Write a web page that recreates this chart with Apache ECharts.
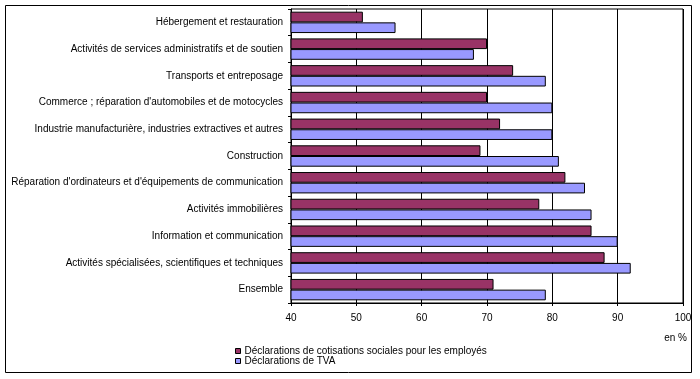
<!DOCTYPE html>
<html><head><meta charset="utf-8">
<script src="https://cdn.jsdelivr.net/npm/echarts@6/dist/echarts.min.js"></script>
<style>html,body{margin:0;padding:0;background:#fff}#c{width:700px;height:379px}</style>
</head><body><div id="c"></div>
<script>
var categories = [
  "Hébergement et restauration",
  "Activités de services administratifs et de soutien",
  "Transports et entreposage",
  "Commerce ; réparation d'automobiles et de motocycles",
  "Industrie manufacturière, industries extractives et autres",
  "Construction",
  "Réparation d'ordinateurs et d'équipements de communication",
  "Activités immobilières",
  "Information et communication",
  "Activités spécialisées, scientifiques et techniques",
  "Ensemble"
];
var seriesNames = ["Déclarations de cotisations sociales pour les employés", "Déclarations de TVA"];
var cotisations = [51, 70, 74, 70, 72, 69, 82, 78, 86, 88, 71];
var tva = [56, 68, 79, 80, 80, 81, 85, 86, 90, 92, 79];
var xTicks = [40, 50, 60, 70, 80, 90, 100];

var font = "Liberation Sans, Arial, sans-serif";
var chart = echarts.init(document.getElementById('c'));
chart.setOption({
  animation: false,
  backgroundColor: '#fff',
  textStyle: {fontFamily: font},
  grid: {left: 291, right: 17, top: 9, bottom: 76, show: true, borderColor: '#000', borderWidth: 1},
  legend: {
    orient: 'vertical', left: 235, top: 346, itemWidth: 5, itemHeight: 5, itemGap: 0, padding: 0,
    textStyle: {fontSize: 10, lineHeight: 9, color: '#000', fontFamily: font, padding: [0,0,0,-1]},
    data: seriesNames.map(function(n){return {name: n, icon: 'rect'};}),
    itemStyle: {borderColor: '#000', borderWidth: 1}
  },
  xAxis: {
    type: 'value', min: xTicks[0], max: xTicks[xTicks.length-1], interval: 10,
    axisLine: {show: true, lineStyle: {color: '#000'}},
    axisTick: {show: true, length: 3, lineStyle: {color: '#000'}},
    axisLabel: {color: '#000', fontSize: 10, margin: 10},
    splitLine: {show: true, lineStyle: {color: '#000', width: 1}}
  },
  yAxis: {
    type: 'category', data: categories, inverse: true,
    axisLine: {show: true, lineStyle: {color: '#000'}},
    axisTick: {show: true, length: 3, lineStyle: {color: '#000'}},
    axisLabel: {color: '#000', fontSize: 10, margin: 8}
  },
  series: [
    {name: seriesNames[0], type: 'bar', data: cotisations, barGap: '0%', barCategoryGap: '20%',
     itemStyle: {color: '#993366', borderColor: '#000', borderWidth: 1}},
    {name: seriesNames[1], type: 'bar', data: tva, barGap: '0%', barCategoryGap: '20%',
     itemStyle: {color: '#9999FF', borderColor: '#000', borderWidth: 1}}
  ],
  graphic: [
    {type: 'rect', shape: {x: 5.5, y: 5.5, width: 686, height: 367}, style: {fill: 'none', stroke: '#000', lineWidth: 1}, silent: true, z: -1},
    {type: 'text', right: 13, top: 333, style: {text: 'en %', fontSize: 10, fill: '#000', fontFamily: font}}
  ]
});
</script></body></html>
